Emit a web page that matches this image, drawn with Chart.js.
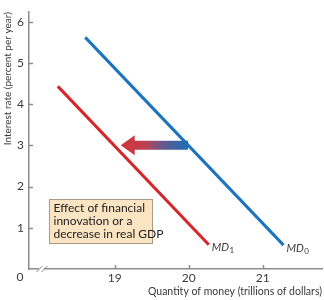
<!DOCTYPE html>
<html>
<head>
<meta charset="utf-8">
<script src="https://cdn.jsdelivr.net/npm/chart.js@4/dist/chart.umd.min.js"></script>
<style>
  html, body { margin: 0; padding: 0; background: #fff; }
  #wrap { width: 324px; height: 300px; }
</style>
</head>
<body>
<div id="wrap"><canvas id="money_demand_canvas"></canvas></div>
<script>
// money demand curves (quantity in trillions, interest rate in %)
const md0Quantity = [18.6, 21.28];
const md0Rate = [5.62, 0.58];
const md1Quantity = [18.23, 20.27];
const md1Rate = [4.43, 0.59];
const xTicks = [19, 20, 21];
const yTicks = [1, 2, 3, 4, 5, 6];
// shift arrow: from tail to tip at rate 3
const arrowQuantity = [19.99, 19.08];
const arrowRate = [3, 3];
const noteLines = ['Effect of financial', 'innovation or a', 'decrease in real GDP'];
const noteCorner = [18.11, 1.71];

const FONT = 'Lato, "Open Sans", sans-serif';
const textColor = '#3a3a3a';
const axisColor = '#8c8c8c';

function toPoints(xs, ys) {
    return xs.map(function(x, i) { return { x: x, y: ys[i] }; });
}

const extras = {
    id: 'extras',
    afterDraw: function(chart) {
        const ctx = chart.ctx;
        const xs = chart.scales.x;
        const ys = chart.scales.y;
        ctx.save();

        // inward tick marks
        ctx.strokeStyle = axisColor;
        ctx.lineWidth = 1.5;
        yTicks.forEach(function(v) {
            const py = Math.round(ys.getPixelForValue(v)) + 0.5;
            ctx.beginPath();
            ctx.moveTo(xs.left, py);
            ctx.lineTo(xs.left + 4, py);
            ctx.stroke();
        });
        xTicks.forEach(function(v) {
            const px = Math.round(xs.getPixelForValue(v)) + 0.5;
            ctx.beginPath();
            ctx.moveTo(px, ys.bottom);
            ctx.lineTo(px, ys.bottom - 4);
            ctx.stroke();
        });

        // axis break marks
        const bx = xs.left + 13;
        const by = ys.bottom;
        ctx.fillStyle = '#fff';
        ctx.fillRect(bx - 3, by - 2, 5, 4);
        ctx.lineWidth = 1;
        [-2.5, 2.5].forEach(function(d) {
            ctx.beginPath();
            ctx.moveTo(bx + d - 3, by + 3);
            ctx.lineTo(bx + d + 3, by - 3);
            ctx.stroke();
        });

        // origin label
        ctx.fillStyle = textColor;
        ctx.font = '12px ' + FONT;
        ctx.textAlign = 'center';
        ctx.textBaseline = 'middle';
        ctx.fillText('0', xs.left - 9, ys.bottom + 8);

        // curve labels
        function mdLabel(sub, qx, ry) {
            const px = xs.getPixelForValue(qx) + 3;
            const py = ys.getPixelForValue(ry) + 3;
            ctx.textAlign = 'left';
            ctx.textBaseline = 'middle';
            ctx.font = 'italic 11px ' + FONT;
            ctx.fillText('MD', px, py);
            const w = ctx.measureText('MD').width;
            ctx.font = '8px ' + FONT;
            ctx.fillText(sub, px + w + 0.5, py + 3);
        }
        mdLabel('0', md0Quantity[1], md0Rate[1]);
        mdLabel('1', md1Quantity[1], md1Rate[1]);

        // shift arrow
        const tailX = xs.getPixelForValue(arrowQuantity[0]);
        const tipX = xs.getPixelForValue(arrowQuantity[1]);
        const ay = ys.getPixelForValue(arrowRate[0]);
        const grad = ctx.createLinearGradient(tipX, 0, tailX, 0);
        grad.addColorStop(0, '#d3343a');
        grad.addColorStop(0.35, '#c0404f');
        grad.addColorStop(0.65, '#5f5a92');
        grad.addColorStop(1, '#1b6fb3');
        ctx.fillStyle = grad;
        ctx.beginPath();
        ctx.moveTo(tipX, ay);
        ctx.lineTo(tipX + 14, ay - 10);
        ctx.lineTo(tipX + 14, ay - 4.5);
        ctx.lineTo(tailX, ay - 4.5);
        ctx.lineTo(tailX, ay + 4.5);
        ctx.lineTo(tipX + 14, ay + 4.5);
        ctx.lineTo(tipX + 14, ay + 10);
        ctx.closePath();
        ctx.fill();

        // note box
        const nx = Math.round(xs.getPixelForValue(noteCorner[0])) + 0.5;
        const ny = Math.round(ys.getPixelForValue(noteCorner[1])) + 0.5;
        ctx.fillStyle = '#fbe4c2';
        ctx.strokeStyle = '#a89a86';
        ctx.lineWidth = 1;
        ctx.fillRect(nx, ny, 103, 44);
        ctx.strokeRect(nx, ny, 103, 44);
        ctx.fillStyle = '#222';
        ctx.font = '12px ' + FONT;
        ctx.textAlign = 'left';
        ctx.textBaseline = 'middle';
        noteLines.forEach(function(t, i) {
            ctx.fillText(t, nx + 4, ny + 9 + i * 13);
        });

        ctx.restore();
    }
};

const moneyDemand = document.getElementById('money_demand_canvas');
const moneyDemandChart = new Chart(moneyDemand, {
    type: 'scatter',
    data: {
        datasets: [
            {
                data: toPoints(md0Quantity, md0Rate),
                showLine: true,
                borderColor: '#1b74bd',
                borderWidth: 3,
                pointRadius: 0
            },
            {
                data: toPoints(md1Quantity, md1Rate),
                showLine: true,
                borderColor: '#d4262b',
                borderWidth: 3,
                pointRadius: 0
            }
        ]
    },
    options: {
        responsive: true,
        maintainAspectRatio: false,
        animation: false,
        layout: {
            padding: { left: 0, right: 2, top: 3, bottom: 0 }
        },
        scales: {
            x: {
                type: 'linear',
                min: 17.84,
                max: 21.8,
                afterBuildTicks: function(scale) {
                    scale.ticks = xTicks.map(function(v) { return { value: v }; });
                },
                afterFit: function(scale) { scale.height = 31; },
                grid: { display: false, drawTicks: false },
                border: { color: axisColor, width: 1.5 },
                ticks: {
                    padding: 2,
                    color: textColor,
                    font: { family: FONT, size: 12 }
                },
                title: {
                    display: true,
                    text: 'Quantity of money (trillions of dollars)',
                    align: 'end',
                    color: textColor,
                    font: { family: FONT, size: 10.5 },
                    padding: { top: 0, bottom: 2 }
                }
            },
            y: {
                type: 'linear',
                min: 0,
                max: 6.23,
                afterBuildTicks: function(scale) {
                    scale.ticks = yTicks.map(function(v) { return { value: v }; });
                },
                afterFit: function(scale) { scale.width = 29; },
                grid: { display: false, drawTicks: false },
                border: { color: axisColor, width: 1.5 },
                ticks: {
                    padding: 5,
                    color: textColor,
                    font: { family: FONT, size: 12 }
                },
                title: {
                    display: true,
                    text: 'Interest rate (percent per year)',
                    align: 'end',
                    color: textColor,
                    font: { family: FONT, size: 10 },
                    padding: { top: 2, bottom: 0 }
                }
            }
        },
        plugins: {
            legend: { display: false },
            tooltip: { enabled: false }
        }
    },
    plugins: [extras]
});
</script>
</body>
</html>
